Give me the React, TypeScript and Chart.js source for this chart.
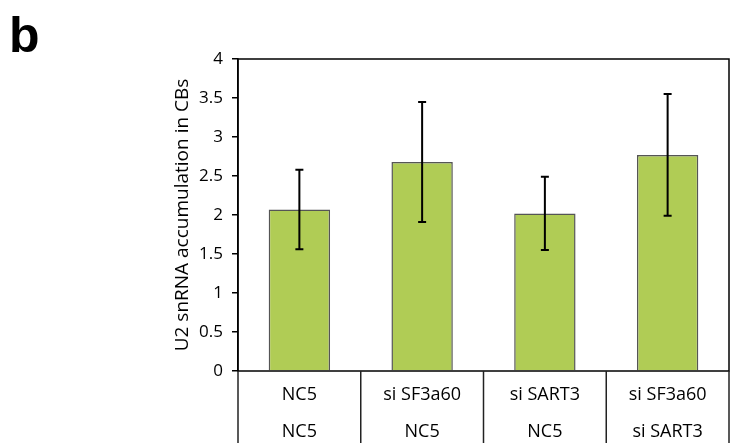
import React, { useEffect, useRef } from "react";
import { Chart, registerables } from "chart.js";

Chart.register(...registerables);

const rowTop = ["NC5", "si SF3a60", "si SART3", "si SF3a60"];
const rowBottom = ["NC5", "NC5", "NC5", "si SART3"];
const means = [2.07, 2.68, 2.02, 2.77];
const errors = [0.51, 0.77, 0.47, 0.78];
const yMin = 0;
const yMax = 4;
const yStep = 0.5;
const yTitle = "U2 snRNA accumulation in CBs";
const panelLabel = "b";

const FONT = "'Open Sans', 'Noto Sans', sans-serif";

const decorPlugin = {
  id: "decor",
  afterDatasetsDraw(chart: any) {
    const { ctx, scales } = chart;
    const x = scales.x;
    const y = scales.y;
    ctx.save();
    ctx.strokeStyle = "#000";
    ctx.lineWidth = 2;
    means.forEach((m, i) => {
      const cx = x.getPixelForValue(i);
      const top = y.getPixelForValue(m + errors[i]);
      const bot = y.getPixelForValue(m - errors[i]);
      ctx.beginPath();
      ctx.moveTo(cx, top);
      ctx.lineTo(cx, bot);
      ctx.moveTo(cx - 4, top);
      ctx.lineTo(cx + 4, top);
      ctx.moveTo(cx - 4, bot);
      ctx.lineTo(cx + 4, bot);
      ctx.stroke();
    });
    ctx.restore();
  },
  afterDraw(chart: any) {
    const { ctx, chartArea: a, scales } = chart;
    const x = scales.x;
    ctx.save();
    ctx.strokeStyle = "#000";
    ctx.lineWidth = 1.5;
    ctx.strokeRect(a.left, a.top, a.right - a.left, a.bottom - a.top);
    ctx.strokeStyle = "#222";
    for (let i = 0; i <= means.length; i++) {
      const px = x.getPixelForValue(i - 0.5);
      ctx.beginPath();
      ctx.moveTo(px, a.bottom);
      ctx.lineTo(px, chart.height);
      ctx.stroke();
    }
    ctx.fillStyle = "#000";
    ctx.font = "bold 50px 'Liberation Sans', Arial, sans-serif";
    ctx.textBaseline = "alphabetic";
    ctx.textAlign = "left";
    ctx.fillText(panelLabel, 9, 52);
    ctx.restore();
  },
};

export default function App() {
  const ref = useRef<HTMLCanvasElement | null>(null);
  useEffect(() => {
    if (!ref.current) return;
    const chart = new Chart(ref.current, {
      type: "bar",
      data: {
        labels: rowTop.map((t, i) => [t, rowBottom[i]]),
        datasets: [
          {
            data: means,
            backgroundColor: "#b0cc55",
            borderColor: "#555",
            borderWidth: 1.5,
            categoryPercentage: 1,
            barPercentage: 0.5,
          },
        ],
      },
      options: {
        animation: false,
        responsive: true,
        maintainAspectRatio: false,
        layout: { padding: { left: 167, top: 59, right: 2, bottom: 0 } },
        plugins: { legend: { display: false }, tooltip: { enabled: false } },
        scales: {
          x: {
            grid: { display: false, drawTicks: false },
            border: { display: false },
            ticks: {
              color: "#000",
              font: { family: FONT, size: 18, lineHeight: "37px" } as any,
              padding: 5,
              maxRotation: 0,
              autoSkip: false,
            },
            afterFit(scale: any) {
              scale.height = 72;
            },
          },
          y: {
            min: yMin,
            max: yMax,
            grid: {
              drawOnChartArea: false,
              tickLength: 6,
              color: "#000",
              lineWidth: 1.5,
            },
            border: { display: true, color: "#000", width: 1.5 },
            ticks: {
              stepSize: yStep,
              color: "#000",
              font: { family: FONT, size: 17 },
              padding: 9,
              callback: (v: any) => String(Number(v)),
            },
            title: {
              display: true,
              text: yTitle,
              color: "#000",
              font: { family: FONT, size: 19 },
            },
            afterFit(scale: any) {
              scale.width = 71;
            },
          },
        },
      },
      plugins: [decorPlugin],
    });
    return () => chart.destroy();
  }, []);
  return (
    <div style={{ position: "fixed", left: 0, top: 0, width: 731, height: 443, background: "#fff" }}>
      <canvas ref={ref} />
    </div>
  );
}
